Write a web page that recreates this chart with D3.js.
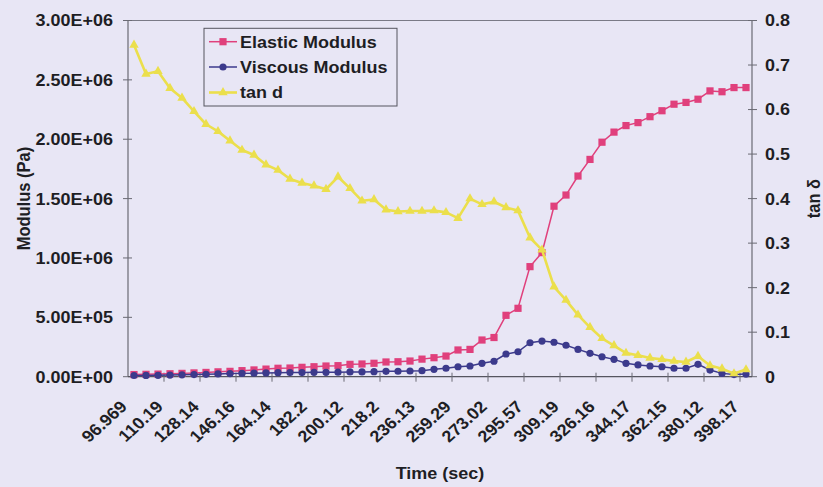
<!DOCTYPE html>
<html>
<head>
<meta charset="utf-8">
<script src="https://cdn.jsdelivr.net/npm/d3@7"></script>
<style>
  html, body { margin: 0; padding: 0; background: #e8e6f5; }
  svg { display: block; }
  text { font-family: "Liberation Sans", Arial, sans-serif; font-weight: bold; fill: #1e1e24; }
</style>
</head>
<body>
<svg id="chart" width="823" height="487"></svg>
<script>
// Time labels shown on every third sample
const timeLabels = ["96.969", "110.19", "128.14", "146.16", "164.14", "182.2", "200.12", "218.2",
  "236.13", "259.29", "273.02", "295.57", "309.19", "326.16", "344.17", "362.15", "380.12", "398.17"];
const labelEvery = 3;

// Elastic modulus G' (Pa), one value per sample
const elastic = [
  1.8e4, 2.0e4, 2.2e4, 2.5e4, 2.8e4, 3.2e4, 3.6e4, 4.1e4, 4.5e4, 5.1e4, 5.7e4, 6.4e4,
  7.1e4, 7.3e4, 7.9e4, 8.4e4, 9.0e4, 9.3e4, 1.04e5, 1.07e5, 1.13e5, 1.24e5, 1.26e5, 1.32e5,
  1.48e5, 1.60e5, 1.74e5, 2.25e5, 2.30e5, 3.09e5, 3.30e5, 5.17e5, 5.76e5, 9.27e5, 1.045e6,
  1.436e6, 1.53e6, 1.69e6, 1.83e6, 1.975e6, 2.06e6, 2.115e6, 2.14e6, 2.19e6, 2.24e6,
  2.295e6, 2.31e6, 2.337e6, 2.407e6, 2.40e6, 2.435e6, 2.435e6
];

// Viscous modulus G'' (Pa)
const viscous = [
  1.0e4, 1.1e4, 1.2e4, 1.4e4, 1.6e4, 1.8e4, 2.0e4, 2.3e4, 2.6e4, 2.8e4, 3.0e4, 3.2e4,
  3.4e4, 3.5e4, 3.5e4, 3.7e4, 3.7e4, 3.8e4, 4.0e4, 4.0e4, 4.2e4, 4.5e4, 4.6e4, 4.8e4,
  5.1e4, 6.2e4, 7.1e4, 8.4e4, 9.0e4, 1.13e5, 1.30e5, 1.91e5, 2.10e5, 2.86e5, 3.00e5, 2.90e5, 2.65e5, 2.30e5,
  1.97e5, 1.68e5, 1.46e5, 1.13e5, 9.9e4, 9.0e4, 8.4e4, 7.1e4, 7.1e4, 1.04e5, 5.6e4, 2.8e4, 1.8e4, 2.2e4
];

// Loss tangent (right axis)
const tanD = [
  0.745, 0.680, 0.686, 0.648, 0.626, 0.596, 0.567, 0.551, 0.530, 0.509, 0.498, 0.476, 0.464, 0.444,
  0.435, 0.429, 0.421, 0.449, 0.423, 0.395, 0.398, 0.375, 0.371, 0.372, 0.372, 0.373, 0.369, 0.356,
  0.400, 0.387, 0.393, 0.380, 0.373, 0.312, 0.285, 0.202, 0.172, 0.139, 0.111, 0.086, 0.070, 0.053,
  0.048, 0.042, 0.039, 0.035, 0.033, 0.046, 0.025, 0.018, 0.007, 0.016
];

const modulusTicks = [0, 5e5, 1e6, 1.5e6, 2e6, 2.5e6, 3e6];
const tanTicks = [0, 0.1, 0.2, 0.3, 0.4, 0.5, 0.6, 0.7, 0.8];

const seriesNames = ["Elastic Modulus", "Viscous Modulus", "tan d"];
const colors = { elastic: "#e0407c", viscous: "#3c3a8c", tan: "#ebdf4c" };

// Layout
const plot = { left: 128, right: 752, top: 20.5, bottom: 376.7 };
const FS = 16.5;   // font size
const SX = 1.09;   // horizontal stretch of type

const svg = d3.select("#chart");
svg.append("rect").attr("width", 823).attr("height", 487).attr("fill", "#e8e6f5");

const x = d3.scaleBand().domain(d3.range(elastic.length)).range([plot.left, plot.right]);
const cx = i => x(i) + x.bandwidth() / 2;
const yL = d3.scaleLinear().domain([0, 3e6]).range([plot.bottom, plot.top]);
const yR = d3.scaleLinear().domain([0, 0.8]).range([plot.bottom, plot.top]);

function sciFmt(v) {
  if (v === 0) return "0.00E+00";
  const e = Math.floor(Math.log10(v));
  const m = v / Math.pow(10, e);
  return m.toFixed(2) + "E+" + String(e).padStart(2, "0");
}

function stretchedText(g, tx, ty, rot, str, anchor) {
  return g.append("text")
    .attr("transform", `translate(${tx},${ty}) scale(${SX},1)` + (rot ? ` rotate(${rot})` : ""))
    .attr("text-anchor", anchor)
    .attr("font-size", FS)
    .text(str);
}

// Plot frame: top border
svg.append("line")
  .attr("x1", plot.left).attr("x2", plot.right)
  .attr("y1", plot.top).attr("y2", plot.top)
  .attr("stroke", "#7a7a86").attr("stroke-width", 1);

// Left axis
const gL = svg.append("g");
gL.append("line").attr("x1", plot.left).attr("x2", plot.left)
  .attr("y1", plot.top).attr("y2", plot.bottom).attr("stroke", "#6a6a74").attr("stroke-width", 1.2);
modulusTicks.forEach(t => {
  gL.append("line").attr("x1", plot.left - 5).attr("x2", plot.left + 4)
    .attr("y1", yL(t)).attr("y2", yL(t)).attr("stroke", "#6a6a74").attr("stroke-width", 1);
  stretchedText(gL, plot.left - 15, yL(t) + FS * 0.36, 0, sciFmt(t), "end");
});

// Right axis
const gR = svg.append("g");
gR.append("line").attr("x1", plot.right).attr("x2", plot.right)
  .attr("y1", plot.top).attr("y2", plot.bottom).attr("stroke", "#6a6a74").attr("stroke-width", 1.2);
tanTicks.forEach(t => {
  gR.append("line").attr("x1", plot.right - 4).attr("x2", plot.right + 5)
    .attr("y1", yR(t)).attr("y2", yR(t)).attr("stroke", "#6a6a74").attr("stroke-width", 1);
  stretchedText(gR, plot.right + 13, yR(t) + FS * 0.36, 0, t === 0 ? "0" : t.toFixed(1), "start");
});

// Bottom (category) axis
const gB = svg.append("g");
gB.append("line").attr("x1", plot.left).attr("x2", plot.right)
  .attr("y1", plot.bottom).attr("y2", plot.bottom).attr("stroke", "#55555f").attr("stroke-width", 1.3);
for (let i = labelEvery; i < elastic.length; i += labelEvery) {
  gB.append("line").attr("x1", x(i)).attr("x2", x(i))
    .attr("y1", plot.bottom - 4).attr("y2", plot.bottom + 5)
    .attr("stroke", "#6a6a74").attr("stroke-width", 1);
}
timeLabels.forEach((lab, k) => {
  const i = k * labelEvery;
  stretchedText(gB, cx(i) - 6, plot.bottom + 31, -45, lab, "end");
});

// Axis titles
stretchedText(svg, 440, 479, 0, "Time (sec)", "middle");
svg.append("text")
  .attr("transform", `translate(30,${(plot.top + plot.bottom) / 2}) rotate(-90) scale(1,${SX})`)
  .attr("text-anchor", "middle").attr("font-size", FS).text("Modulus (Pa)");
svg.append("text")
  .attr("transform", `translate(820,${(plot.top + plot.bottom) / 2}) rotate(-90) scale(1,${SX})`)
  .attr("text-anchor", "middle").attr("font-size", FS).text("tan δ");

// Series
const lineL = d3.line().x((d, i) => cx(i)).y(d => yL(d));
const lineR = d3.line().x((d, i) => cx(i)).y(d => yR(d));

const triangle = d3.symbol().type(d3.symbolTriangle).size(38);

function drawTan(g) {
  g.append("path").datum(tanD).attr("d", lineR).attr("fill", "none")
    .attr("stroke", colors.tan).attr("stroke-width", 2.6).attr("stroke-linejoin", "round");
  g.selectAll("path.m").data(tanD).join("path").attr("class", "m")
    .attr("d", triangle).attr("transform", (d, i) => `translate(${cx(i)},${yR(d)})`)
    .attr("fill", colors.tan);
}
function drawViscous(g) {
  g.append("path").datum(viscous).attr("d", lineL).attr("fill", "none")
    .attr("stroke", colors.viscous).attr("stroke-width", 1.5);
  g.selectAll("circle").data(viscous).join("circle")
    .attr("cx", (d, i) => cx(i)).attr("cy", d => yL(d)).attr("r", 3.6)
    .attr("fill", colors.viscous);
}
function drawElastic(g) {
  g.append("path").datum(elastic).attr("d", lineL).attr("fill", "none")
    .attr("stroke", colors.elastic).attr("stroke-width", 1.5);
  g.selectAll("rect").data(elastic).join("rect")
    .attr("x", (d, i) => cx(i) - 3.6).attr("y", d => yL(d) - 3.6)
    .attr("width", 7.2).attr("height", 7.2).attr("fill", colors.elastic);
}
drawElastic(svg.append("g"));
drawViscous(svg.append("g"));
drawTan(svg.append("g"));

// Legend
const lg = svg.append("g");
lg.append("rect").attr("x", 204).attr("y", 28.3).attr("width", 193).attr("height", 77.7)
  .attr("fill", "#e8e6f5").attr("stroke", "#55555f").attr("stroke-width", 1);
const rowY = [41.7, 67, 92.5];
const keys = ["elastic", "viscous", "tan"];
keys.forEach((k, r) => {
  const y = rowY[r];
  lg.append("line").attr("x1", 209).attr("x2", 237).attr("y1", y).attr("y2", y)
    .attr("stroke", colors[k]).attr("stroke-width", k === "tan" ? 2.6 : 1.5);
  if (k === "elastic") {
    lg.append("rect").attr("x", 223 - 3.6).attr("y", y - 3.6).attr("width", 7.2).attr("height", 7.2).attr("fill", colors[k]);
  } else if (k === "viscous") {
    lg.append("circle").attr("cx", 223).attr("cy", y).attr("r", 3.6).attr("fill", colors[k]);
  } else {
    lg.append("path").attr("d", triangle).attr("transform", `translate(223,${y})`).attr("fill", colors[k]);
  }
  stretchedText(lg, 240, y + FS * 0.36, 0, seriesNames[r], "start");
});
</script>
</body>
</html>
